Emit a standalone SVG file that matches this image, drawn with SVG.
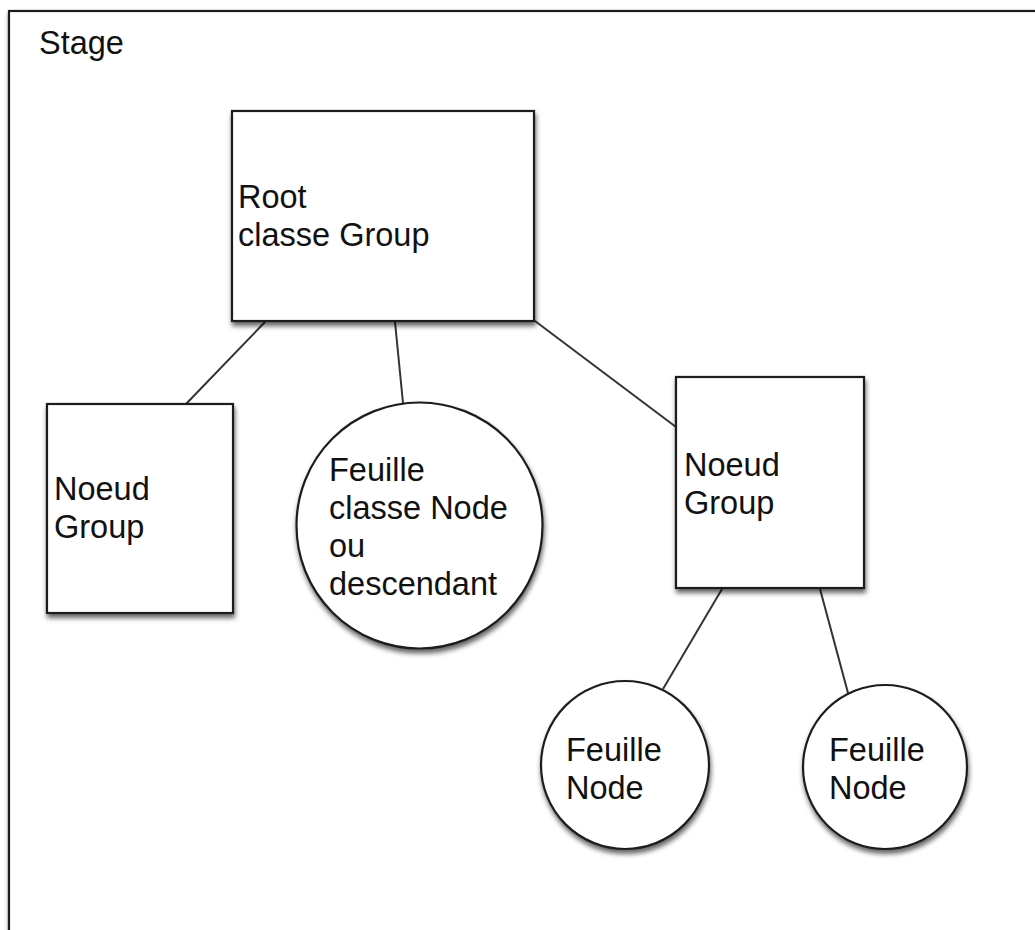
<svg xmlns="http://www.w3.org/2000/svg" width="1035" height="930" viewBox="0 0 1035 930">
  <defs>
    <filter id="shadow" x="-10%" y="-10%" width="130%" height="130%">
      <feDropShadow dx="1" dy="4" stdDeviation="2.5" flood-color="#000" flood-opacity="0.6"/>
    </filter>
    <style>
      .shape { fill: #fff; stroke: #1e1e1e; stroke-width: 2.2; filter: url(#shadow); }
      .conn { stroke: #333; stroke-width: 2; fill: none; }
      text { font-family: "Liberation Sans", Arial, Helvetica, sans-serif; font-size: 32.5px; fill: #111; }
    </style>
  </defs>
  <rect width="1035" height="930" fill="#fff"/>
  <g id="stage">
    <rect class="shape" x="9" y="11" width="1040" height="940"/>
    <text x="39" y="54">Stage</text>
  </g>
  <g id="connectors">
    <line class="conn" x1="265" y1="322" x2="186" y2="404"/>
    <line class="conn" x1="395" y1="322" x2="403" y2="403"/>
    <line class="conn" x1="535" y1="321" x2="676" y2="427"/>
    <line class="conn" x1="722" y1="589" x2="663" y2="689"/>
    <line class="conn" x1="820" y1="589" x2="848" y2="693"/>
  </g>
  <g id="root">
    <rect class="shape" x="232" y="111" width="302" height="210"/>
    <text x="238" y="208">Root</text>
    <text x="238" y="246">classe Group</text>
  </g>
  <g id="noeud-left">
    <rect class="shape" x="47" y="404" width="186" height="209"/>
    <text x="54" y="500">Noeud</text>
    <text x="54" y="538">Group</text>
  </g>
  <g id="feuille-big">
    <circle class="shape" cx="419.5" cy="525.5" r="123"/>
    <text x="329" y="481">Feuille</text>
    <text x="329" y="519">classe Node</text>
    <text x="329" y="557">ou</text>
    <text x="329" y="595">descendant</text>
  </g>
  <g id="noeud-right">
    <rect class="shape" x="676" y="377" width="188" height="211"/>
    <text x="684" y="476">Noeud</text>
    <text x="684" y="514">Group</text>
  </g>
  <g id="feuille-left">
    <circle class="shape" cx="625" cy="765" r="84"/>
    <text x="566" y="761">Feuille</text>
    <text x="566" y="799">Node</text>
  </g>
  <g id="feuille-right">
    <circle class="shape" cx="885" cy="767" r="82"/>
    <text x="829" y="761">Feuille</text>
    <text x="829" y="799">Node</text>
  </g>
</svg>
